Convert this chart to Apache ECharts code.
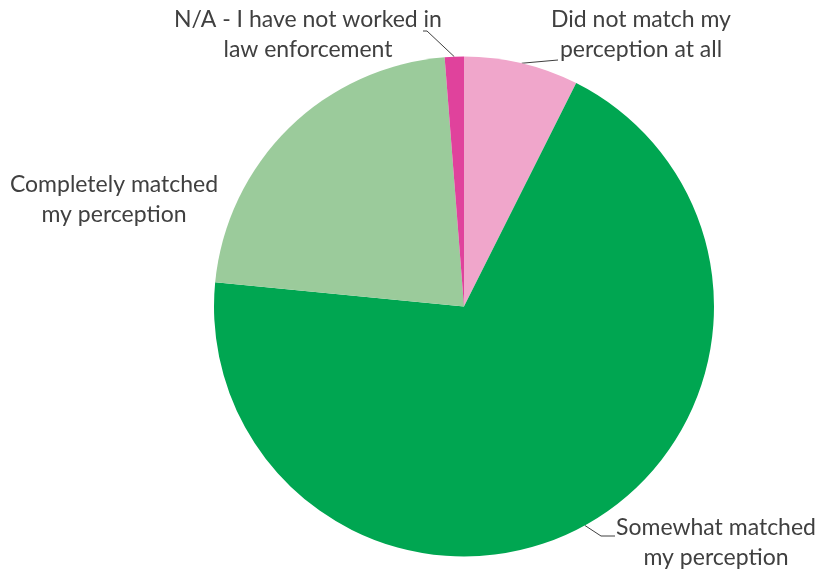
<!DOCTYPE html>
<html>
<head>
<meta charset="utf-8">
<title>Perception survey</title>
<script src="https://cdn.jsdelivr.net/npm/echarts@6/dist/echarts.min.js"></script>
<style>
  html, body { margin: 0; padding: 0; background: #ffffff; }
  #chart { width: 821px; height: 572px; }
</style>
</head>
<body>
<div id="chart"></div>
<script>
// Survey responses, in clockwise order from 12 o'clock
const categories = [
  'Did not match my\nperception at all',
  'Somewhat matched\nmy perception',
  'Completely matched\nmy perception',
  'N/A - I have not worked in\nlaw enforcement'
];
const responses = [6, 56, 18, 1];
const sliceColors = ['#F0A6CB', '#00A651', '#9BCB9B', '#E0429C'];

// Centre of each label block
const labelSpots = [
  { x: 641, y: 35 },
  { x: 716, y: 543 },
  { x: 114, y: 200 },
  { x: 308, y: 35 }
];
// Leader-line bends and ends, as offsets from the label centre (null = no leader)
const leaderOffsets = [
  [[-83, 25]],
  [[-115, -7], [-101, -7]],
  null,
  [[119, -4], [115, -4]]
];

const chart = echarts.init(document.getElementById('chart'), null, { renderer: 'canvas' });

chart.setOption({
  backgroundColor: '#ffffff',
  animation: false,
  series: [{
    type: 'pie',
    center: [464, 306.5],
    radius: 250,
    startAngle: 90,
    clockwise: true,
    avoidLabelOverlap: false,
    data: categories.map((name, i) => ({
      name: name,
      value: responses[i],
      itemStyle: { color: sliceColors[i] },
      labelLine: { show: leaderOffsets[i] !== null }
    })),
    label: {
      show: true,
      position: 'outside',
      formatter: '{b}',
      color: '#404040',
      fontFamily: 'Lato',
      fontSize: 23,
      lineHeight: 30,
      align: 'center'
    },
    labelLine: {
      show: true,
      length: 8,
      length2: 6,
      lineStyle: { color: '#404040', width: 1 }
    },
    labelLayout: function (params) {
      const i = params.dataIndex;
      const spot = labelSpots[i];
      const out = {
        x: spot.x,
        y: spot.y,
        align: 'center',
        verticalAlign: 'middle'
      };
      const offs = leaderOffsets[i];
      if (offs && params.labelLinePoints) {
        // start where the default leader leaves the slice rim
        const start = params.labelLinePoints[0];
        out.labelLinePoints = [[start[0], start[1]]].concat(
          offs.map(o => [spot.x + o[0], spot.y + o[1]])
        );
      }
      return out;
    }
  }]
});
</script>
</body>
</html>
